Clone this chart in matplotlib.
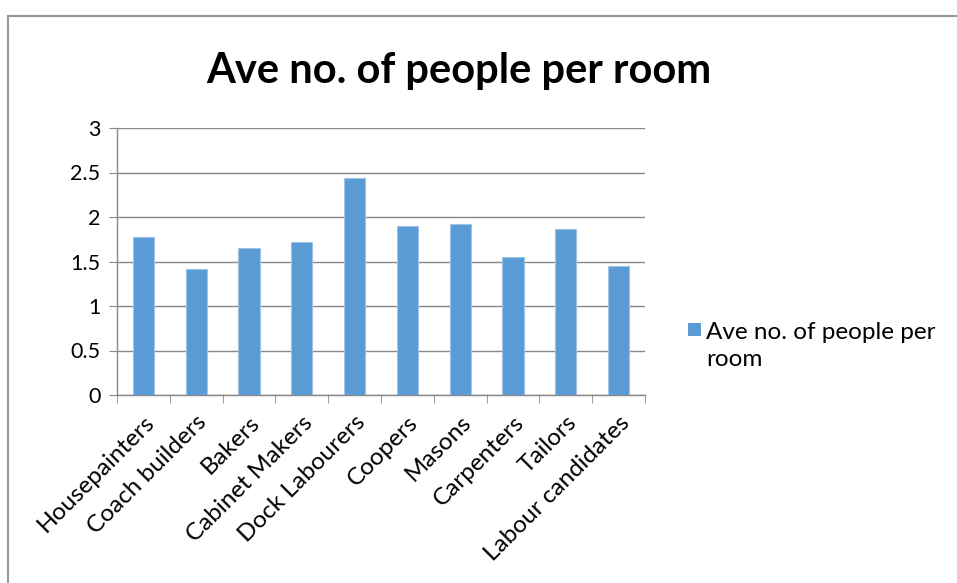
import numpy as np
import matplotlib.pyplot as plt
from matplotlib.patches import Rectangle
from matplotlib.lines import Line2D

categories = ["Housepainters", "Coach builders", "Bakers", "Cabinet Makers",
              "Dock Labourers", "Coopers", "Masons", "Carpenters", "Tailors",
              "Labour candidates"]
values = [1.78, 1.42, 1.65, 1.72, 2.44, 1.90, 1.92, 1.55, 1.87, 1.45]
yticks = [0, 0.5, 1, 1.5, 2, 2.5, 3]
title = "Ave no. of people per room"
series_name = "Ave no. of people per room"

plt.rcParams['font.family'] = ['Lato', 'DejaVu Sans']

W, H = 957, 583
fig = plt.figure(figsize=(W / 100, H / 100), dpi=100)

# chart frame: only left and top edges show in the crop
fig.add_artist(Line2D([8 / W, 8 / W], [0, 1 - 16 / H], color='#999999', linewidth=1.5))
fig.add_artist(Line2D([8 / W, 1], [1 - 16 / H, 1 - 16 / H], color='#999999', linewidth=1.5))

ax = fig.add_axes([117 / W, 1 - 395 / H, 528 / W, 267 / H])
x = np.arange(len(categories))
ax.bar(x, values, width=0.4, color='#5B9BD5', edgecolor='#9DC3E6',
       linewidth=0.8, label=series_name, zorder=3)

ax.set_xlim(-0.5, len(categories) - 0.5)
ax.set_ylim(0, 3)
ax.set_yticks(yticks)
ax.set_yticklabels(['0', '0.5', '1', '1.5', '2', '2.5', '3'])
ax.yaxis.grid(True, color='#888888', linewidth=1, zorder=0)
ax.tick_params(axis='y', length=6, color='#888888', labelsize=15.5, pad=6)

# category tick marks between bars, labels centred on bars
ax.set_xticks(np.arange(-0.5, len(categories), 1.0), minor=True)
ax.set_xticks(x)
ax.set_xticklabels(categories, rotation=45, ha='right', rotation_mode='anchor', fontsize=17.5)
ax.tick_params(axis='x', which='major', length=0, pad=12)
ax.tick_params(axis='x', which='minor', length=6, color='#888888')

for s in ['top', 'right']:
    ax.spines[s].set_visible(False)
for s in ['left', 'bottom']:
    ax.spines[s].set_color('#888888')
    ax.spines[s].set_linewidth(1)

fig.text(459 / W, 1 - 71 / H, title, ha='center', va='center', fontsize=30, fontweight='bold')

# legend: marker + wrapped text
fig.patches.append(Rectangle((688 / W, 1 - 336 / H), 13 / W, 13 / H, transform=fig.transFigure,
                             facecolor='#5B9BD5', edgecolor='none'))
fig.text(706 / W, 1 - 346 / H, "Ave no. of people per\nroom", ha='left', va='center',
         fontsize=17.5, linespacing=1.3)

fig.savefig('out.png', dpi=100)
